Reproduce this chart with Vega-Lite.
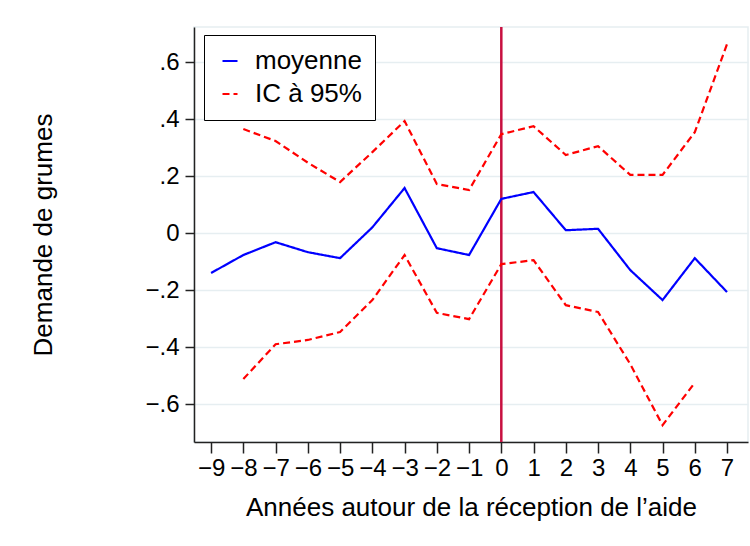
{
  "$schema": "https://vega.github.io/schema/vega-lite/v6.json",
  "width": 554,
  "height": 415,
  "autosize": {"type": "none"},
  "padding": {"left": 194, "top": 27, "right": 2, "bottom": 104},
  "background": "white",
  "config": {
    "font": "Liberation Sans",
    "view": {"stroke": "#e6eef1", "strokeWidth": 1.5},
    "axis": {
      "labelFont": "Liberation Sans",
      "titleFont": "Liberation Sans",
      "labelColor": "black",
      "titleColor": "black",
      "titleFontWeight": "normal",
      "domainColor": "#222222",
      "domainWidth": 1.5,
      "tickColor": "#222222",
      "tickWidth": 1.5
    }
  },
  "datasets": {
    "series": [
      {"t": -9, "v": -0.14, "s": "moyenne", "b": "m"},
      {"t": -8, "v": -0.077, "s": "moyenne", "b": "m"},
      {"t": -7, "v": -0.032, "s": "moyenne", "b": "m"},
      {"t": -6, "v": -0.067, "s": "moyenne", "b": "m"},
      {"t": -5, "v": -0.088, "s": "moyenne", "b": "m"},
      {"t": -4, "v": 0.02, "s": "moyenne", "b": "m"},
      {"t": -3, "v": 0.158, "s": "moyenne", "b": "m"},
      {"t": -2, "v": -0.053, "s": "moyenne", "b": "m"},
      {"t": -1, "v": -0.077, "s": "moyenne", "b": "m"},
      {"t": 0, "v": 0.12, "s": "moyenne", "b": "m"},
      {"t": 1, "v": 0.144, "s": "moyenne", "b": "m"},
      {"t": 2, "v": 0.01, "s": "moyenne", "b": "m"},
      {"t": 3, "v": 0.015, "s": "moyenne", "b": "m"},
      {"t": 4, "v": -0.13, "s": "moyenne", "b": "m"},
      {"t": 5, "v": -0.235, "s": "moyenne", "b": "m"},
      {"t": 6, "v": -0.088, "s": "moyenne", "b": "m"},
      {"t": 7, "v": -0.207, "s": "moyenne", "b": "m"},
      {"t": -8, "v": 0.365, "s": "IC à 95%", "b": "hi"},
      {"t": -7, "v": 0.323, "s": "IC à 95%", "b": "hi"},
      {"t": -6, "v": 0.247, "s": "IC à 95%", "b": "hi"},
      {"t": -5, "v": 0.179, "s": "IC à 95%", "b": "hi"},
      {"t": -4, "v": 0.284, "s": "IC à 95%", "b": "hi"},
      {"t": -3, "v": 0.393, "s": "IC à 95%", "b": "hi"},
      {"t": -2, "v": 0.172, "s": "IC à 95%", "b": "hi"},
      {"t": -1, "v": 0.151, "s": "IC à 95%", "b": "hi"},
      {"t": 0, "v": 0.347, "s": "IC à 95%", "b": "hi"},
      {"t": 1, "v": 0.375, "s": "IC à 95%", "b": "hi"},
      {"t": 2, "v": 0.274, "s": "IC à 95%", "b": "hi"},
      {"t": 3, "v": 0.305, "s": "IC à 95%", "b": "hi"},
      {"t": 4, "v": 0.204, "s": "IC à 95%", "b": "hi"},
      {"t": 5, "v": 0.204, "s": "IC à 95%", "b": "hi"},
      {"t": 6, "v": 0.354, "s": "IC à 95%", "b": "hi"},
      {"t": 7, "v": 0.663, "s": "IC à 95%", "b": "hi"},
      {"t": -8, "v": -0.512, "s": "IC à 95%", "b": "lo"},
      {"t": -7, "v": -0.39, "s": "IC à 95%", "b": "lo"},
      {"t": -6, "v": -0.375, "s": "IC à 95%", "b": "lo"},
      {"t": -5, "v": -0.347, "s": "IC à 95%", "b": "lo"},
      {"t": -4, "v": -0.235, "s": "IC à 95%", "b": "lo"},
      {"t": -3, "v": -0.077, "s": "IC à 95%", "b": "lo"},
      {"t": -2, "v": -0.28, "s": "IC à 95%", "b": "lo"},
      {"t": -1, "v": -0.302, "s": "IC à 95%", "b": "lo"},
      {"t": 0, "v": -0.109, "s": "IC à 95%", "b": "lo"},
      {"t": 1, "v": -0.095, "s": "IC à 95%", "b": "lo"},
      {"t": 2, "v": -0.253, "s": "IC à 95%", "b": "lo"},
      {"t": 3, "v": -0.277, "s": "IC à 95%", "b": "lo"},
      {"t": 4, "v": -0.46, "s": "IC à 95%", "b": "lo"},
      {"t": 5, "v": -0.674, "s": "IC à 95%", "b": "lo"},
      {"t": 6, "v": -0.525, "s": "IC à 95%", "b": "lo"}
    ],
    "vline": [{"t": 0}]
  },
  "encoding": {
    "x": {
      "field": "t",
      "type": "quantitative",
      "scale": {"domain": [-9.53, 7.65], "nice": false, "zero": false},
      "axis": {
        "title": "Années autour de la réception de l’aide",
        "values": [-9, -8, -7, -6, -5, -4, -3, -2, -1, 0, 1, 2, 3, 4, 5, 6, 7],
        "labelExpr": "datum.value < 0 ? '−' + format(abs(datum.value), 'd') : format(datum.value, 'd')",
        "labelFontSize": 24,
        "labelOverlap": false,
        "labelPadding": 3,
        "tickSize": 11,
        "grid": false,
        "titleFontSize": 26,
        "titlePadding": 14
      }
    }
  },
  "layer": [
    {
      "data": {"name": "vline"},
      "mark": {"type": "rule", "color": "#c81040", "strokeWidth": 2.5}
    },
    {
      "data": {"name": "series"},
      "mark": {"type": "line", "strokeWidth": 2.2},
      "encoding": {
        "y": {
          "field": "v",
          "type": "quantitative",
          "scale": {"domain": [-0.733, 0.723], "nice": false, "zero": false},
          "axis": {
            "title": "Demande de grumes",
            "values": [-0.6, -0.4, -0.2, 0, 0.2, 0.4, 0.6],
            "labelExpr": "datum.value == 0 ? '0' : (datum.value < 0 ? '−' : '') + replace(format(abs(datum.value), '.1f'), '0.', '.')",
            "labelFontSize": 24,
            "labelPadding": 6,
            "tickSize": 9,
            "grid": true,
            "gridColor": "#e6eef1",
            "gridWidth": 1.5,
            "titleFontSize": 26,
            "titlePadding": 88
          }
        },
        "color": {
          "field": "s",
          "type": "nominal",
          "scale": {"domain": ["moyenne", "IC à 95%"], "range": ["#0000ff", "#ff0000"]},
          "legend": {
            "title": null,
            "orient": "none",
            "legendX": 10,
            "legendY": 8,
            "strokeColor": "black",
            "fillColor": "white",
            "padding": 13,
            "symbolType": "stroke",
            "symbolSize": 225,
            "symbolStrokeWidth": 2.2,
            "labelFontSize": 26,
            "labelFont": "Liberation Sans",
            "labelColor": "black",
            "labelOffset": 12,
            "rowPadding": 7
          }
        },
        "strokeDash": {
          "field": "s",
          "type": "nominal",
          "scale": {"domain": ["moyenne", "IC à 95%"], "range": [[1, 0], [7, 4]]}
        },
        "detail": {"field": "b", "type": "nominal"}
      }
    }
  ]
}
